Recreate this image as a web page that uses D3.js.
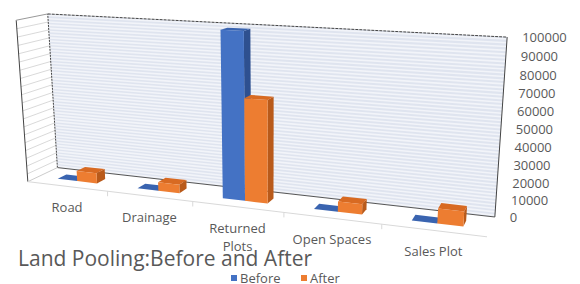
<!DOCTYPE html>
<html>
<head>
<meta charset="utf-8">
<script src="https://cdnjs.cloudflare.com/ajax/libs/d3/7.8.5/d3.min.js"></script>
<style>
body{margin:0;background:#fff}
text{font-family:"Open Sans",sans-serif;fill:#595959}
</style>
</head>
<body>
<script>
// data
const categories = ["Road", "Drainage", "Returned Plots", "Open Spaces", "Sales Plot"];
const seriesNames = ["Before", "After"];
const before = [0, 0, 99000, 0, 0];
const after = [6500, 5300, 61000, 6000, 8500];
const yTicks = [0, 10000, 20000, 30000, 40000, 50000, 60000, 70000, 80000, 90000, 100000];
const colors = {
  Before: {front: "#4472c4", side: "#2e5090", top: "#3a64b0"},
  After: {front: "#ed7d31", side: "#b95a1a", top: "#d86a22"}
};

const W = 580, H = 284;
const svg = d3.select("body").append("svg").attr("width", W).attr("height", H);

// camera: unit cube (u across, v up, w depth 0=front 1=back) -> picture
// fitted from where the cube corners sit in the picture
const calib = [
  [0,0,1,57,168],[1,0,1,495,216],[0,1,1,48,14],[1,1,1,507,37],
  [0,0,0,28,181],[1,0,0,487,237],[0,1,0,16,20],
  [0.2,0,0,108,191.5],[0.4,0,0,193,201.7],[0.6,0,0,283,212.5],[0.8,0,0,382,224.4],
  [1,0.5,1,501,130]
];
const S = 500;
function fitCamera(pts){
  const A = [], b = [];
  pts.forEach(([u,v,w,x,y]) => {
    x /= S; y /= S;
    A.push([u,v,w,1,0,0,0,0,-x*u,-x*v,-x*w]); b.push(x);
    A.push([0,0,0,0,u,v,w,1,-y*u,-y*v,-y*w]); b.push(y);
  });
  const n = 11;
  const M = d3.range(n).map(i => {
    const row = d3.range(n).map(j => d3.sum(A, (r) => r[i]*r[j]));
    row.push(d3.sum(A, (r, k) => r[i]*b[k]));
    return row;
  });
  for (let c = 0; c < n; c++){
    let p = c;
    for (let r = c+1; r < n; r++) if (Math.abs(M[r][c]) > Math.abs(M[p][c])) p = r;
    [M[c], M[p]] = [M[p], M[c]];
    for (let r = 0; r < n; r++){
      if (r === c) continue;
      const f = M[r][c] / M[c][c];
      for (let k = c; k <= n; k++) M[r][k] -= f*M[c][k];
    }
  }
  return M.map((r, i) => r[n] / r[i]);
}
const cam = fitCamera(calib);
function P(u, v, w){
  const d = cam[8]*u + cam[9]*v + cam[10]*w + 1;
  return [S*(cam[0]*u + cam[1]*v + cam[2]*w + cam[3])/d,
          S*(cam[4]*u + cam[5]*v + cam[6]*w + cam[7])/d];
}
const poly = pts => "M" + pts.map(p => P(...p).join(",")).join("L") + "Z";
const seg = (a, b) => "M" + P(...a).join(",") + "L" + P(...b).join(",");

// scales
const x = d3.scaleBand().domain(categories).range([0, 1]);
const xs = d3.scaleBand().domain(seriesNames).range([0, x.bandwidth()]).paddingOuter(1);
const y = d3.scaleLinear().domain([0, 100000]).range([0, 1]);
const w0 = 0.35, w1 = 0.65;

// walls
svg.append("path").attr("d", poly([[0,0,0],[0,0,1],[0,1,1],[0,1,0]])).attr("fill", "#fff");
svg.append("path").attr("d", poly([[0,0,1],[1,0,1],[1,1,1],[0,1,1]])).attr("fill", "#dfe4ef");
svg.append("path").attr("d", poly([[0,0,0],[1,0,0],[1,0,1],[0,0,1]])).attr("fill", "#fff");

// stripes on back wall and side wall
svg.append("g").selectAll("path").data(d3.range(1000, 100000, 2000)).join("path")
  .attr("d", t => seg([0,y(t),1],[1,y(t),1]))
  .attr("stroke", "#f2f4f9").attr("stroke-width", 1.6).attr("fill", "none");
svg.append("g").selectAll("path").data(d3.range(5000, 100000, 5000)).join("path")
  .attr("d", t => seg([0,y(t),0],[0,y(t),1]))
  .attr("stroke", "#c8c8c8").attr("stroke-width", 0.7).attr("fill", "none");

// wall edges
svg.append("path").attr("d", seg([0,1,1],[1,1,1])).attr("stroke", "#444").attr("stroke-dasharray", "3,1").attr("fill", "none");
svg.append("path").attr("d", seg([0,0,1],[0,1,1])).attr("stroke", "#444").attr("stroke-dasharray", "2,1").attr("fill", "none");
svg.append("path").attr("d", seg([1,0,1],[1,1,1])).attr("stroke", "#444").attr("fill", "none");
svg.append("path").attr("d", seg([0,0,1],[1,0,1])).attr("stroke", "#555").attr("fill", "none");
svg.append("path").attr("d", seg([0,0,0],[0,1,0])).attr("stroke", "#444").attr("fill", "none");
svg.append("path").attr("d", seg([0,1,0],[0,1,1])).attr("stroke", "#999").attr("fill", "none");
svg.append("path").attr("d", seg([0,0,0],[0,0,1])).attr("stroke", "#ccc").attr("fill", "none");
svg.append("path").attr("d", seg([0,0,0],[1,0,0])).attr("stroke", "#d9d9d9").attr("fill", "none");

// category ticks on front floor edge
svg.append("g").selectAll("path").data(d3.range(1, categories.length)).join("path")
  .attr("d", i => { const p = P(i/categories.length, 0, 0); return `M${p[0]},${p[1]}v5`; })
  .attr("stroke", "#d9d9d9").attr("fill", "none");

// bars
const boxes = [];
categories.forEach((c, i) => {
  [before[i], after[i]].forEach((val, s) => {
    const name = seriesNames[s];
    const u0 = x(c) + xs(name), u1 = u0 + xs.bandwidth(), v = y(val);
    boxes.push({name, u0, u1, v});
  });
});
const bar = svg.append("g").selectAll("g").data(boxes).join("g");
bar.append("path").attr("d", d => poly([[d.u1,0,w0],[d.u1,0,w1],[d.u1,d.v,w1],[d.u1,d.v,w0]]))
  .attr("fill", d => colors[d.name].side);
bar.append("path").attr("d", d => poly([[d.u0,d.v,w0],[d.u1,d.v,w0],[d.u1,d.v,w1],[d.u0,d.v,w1]]))
  .attr("fill", d => colors[d.name].top);
bar.append("path").attr("d", d => poly([[d.u0,0,w0],[d.u1,0,w0],[d.u1,d.v,w0],[d.u0,d.v,w0]]))
  .attr("fill", d => colors[d.name].front);

// value axis labels
svg.append("g").selectAll("text").data(yTicks).join("text")
  .attr("x", t => P(1, y(t), 1)[0] + 15)
  .attr("y", t => P(1, y(t), 1)[1])
  .attr("dominant-baseline", "central")
  .attr("font-size", 13)
  .text(t => t);

// category labels, wrapped when wider than their slot
svg.append("g").selectAll("text").data(categories).join("text")
  .attr("text-anchor", "middle")
  .attr("font-size", 13)
  .each(function(c){
    const p = P(x(c) + x.bandwidth()/2, 0, 0);
    const a = P(x(c), 0, 0), b = P(x(c) + x.bandwidth(), 0, 0);
    const el = d3.select(this).attr("x", p[0]).attr("y", p[1] + 26).text(c);
    if (this.getComputedTextLength() > 0.9*(b[0] - a[0])) {
      el.text(null);
      c.split(" ").forEach((word, k) => {
        el.append("tspan").attr("x", p[0]).attr("dy", k ? 18 : 0).text(word);
      });
    }
  });

// title and legend
svg.append("text").attr("x", 18).attr("y", 266).attr("font-size", 21).text("Land Pooling:Before and After");
const legend = svg.append("g").selectAll("g").data(seriesNames).join("g")
  .attr("transform", (d, i) => `translate(${231 + i*70},278)`);
legend.append("rect").attr("x", 0).attr("y", -3).attr("width", 6).attr("height", 6).attr("fill", d => colors[d].front);
legend.append("text").attr("x", 9).attr("dominant-baseline", "central").attr("font-size", 13).text(d => d);
</script>
</body>
</html>
